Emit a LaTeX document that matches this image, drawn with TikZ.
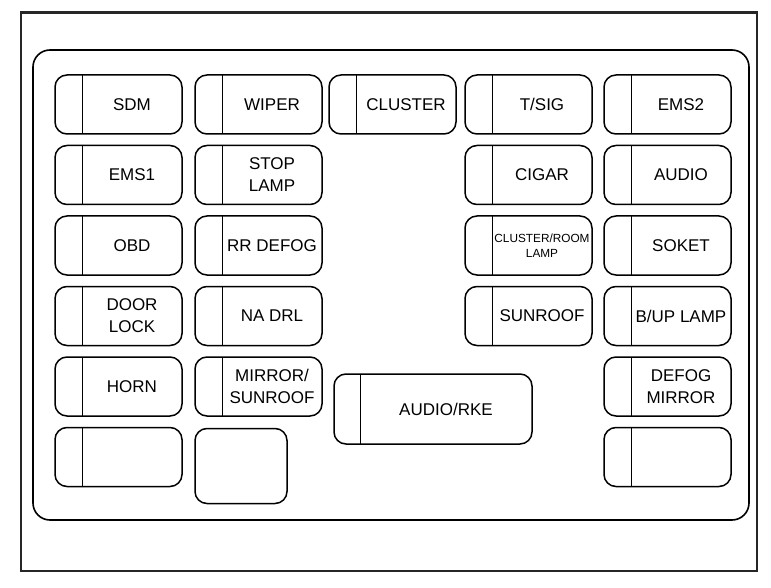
\documentclass[tikz,border=0pt]{standalone}
\usepackage{fontspec}
\setmainfont{Liberation Sans}
\usetikzlibrary{positioning}

\begin{document}
\begin{tikzpicture}[
    x=1pt, y=-1pt,
    node distance=10pt,
    tabwidth/.code={\def\tabw{#1}},
    bodywidth/.code={\def\bodyw{#1}},
    tabwidth=27pt, bodywidth=100pt,
    fuse/.style={draw, rounded corners=12pt, line width=1.5pt, inner sep=0pt, minimum width=127pt, minimum height=59pt, font=\fontsize{17}{22}\selectfont,
        execute at begin node={\hspace*{\tabw}\begin{minipage}{\bodyw}\centering},
        execute at end node={\end{minipage}},
        path picture={\draw[line width=1pt] ([xshift=\tabw]path picture bounding box.north west) -- ([xshift=\tabw]path picture bounding box.south west);}},
    blankbox/.style={draw, rounded corners=12pt, line width=1.5pt, inner sep=0pt, minimum width=92pt, minimum height=75pt},
    smalltext/.style={font=\fontsize{11.8}{15}\selectfont},
    frame/.style={draw=black!85, line width=2.8pt},
    panel/.style={draw, rounded corners=17pt, line width=1.6pt}
]
\useasboundingbox (0,0) rectangle (771,588);
\draw[frame] (21,12.5) rectangle (757,571);
\draw[panel] (33,50) rectangle (749,520);
\node[fuse] (sdm) at (118.5,104.5) {SDM};
\node[fuse, below=of sdm] (ems1) {EMS1};
\node[fuse, below=of ems1] (obd) {OBD};
\node[fuse, below=of obd] (doorlock) {DOOR\\LOCK};
\node[fuse, below=of doorlock] (horn) {HORN};
\node[fuse, below=of horn] (sparea) {};
\node[fuse] (wiper) at (258.5,104.5) {WIPER};
\node[fuse, below=of wiper] (stoplamp) {STOP\\LAMP};
\node[fuse, below=of stoplamp] (rrdefog) {RR DEFOG};
\node[fuse, below=of rrdefog] (nadrl) {NA DRL};
\node[fuse, below=of nadrl] (mirrorsunroof) {MIRROR/\\SUNROOF};
\node[blankbox, below=11pt of mirrorsunroof.south west, anchor=north west] (spareb) {};
\node[fuse] (cluster) at (392.5,104.5) {CLUSTER};
\node[fuse, minimum width=198pt, minimum height=70pt, tabwidth=26pt, bodywidth=172pt] (audiorke) at (433,409) {AUDIO/RKE};
\node[fuse] (tsig) at (528.5,104.5) {T/SIG};
\node[fuse, below=of tsig] (cigar) {CIGAR};
\node[fuse, smalltext, below=of cigar] (clusterroom) {CLUSTER/ROOM\\LAMP};
\node[fuse, below=of clusterroom] (sunroof) {SUNROOF};
\node[fuse] (ems2) at (667.5,104.5) {EMS2};
\node[fuse, below=of ems2] (audio) {AUDIO};
\node[fuse, below=of audio] (soket) {SOKET};
\node[fuse, below=of soket] (buplamp) {B/UP LAMP};
\node[fuse, below=of buplamp] (defogmirror) {DEFOG\\MIRROR};
\node[fuse, below=of defogmirror] (sparec) {};
\end{tikzpicture}
\end{document}
